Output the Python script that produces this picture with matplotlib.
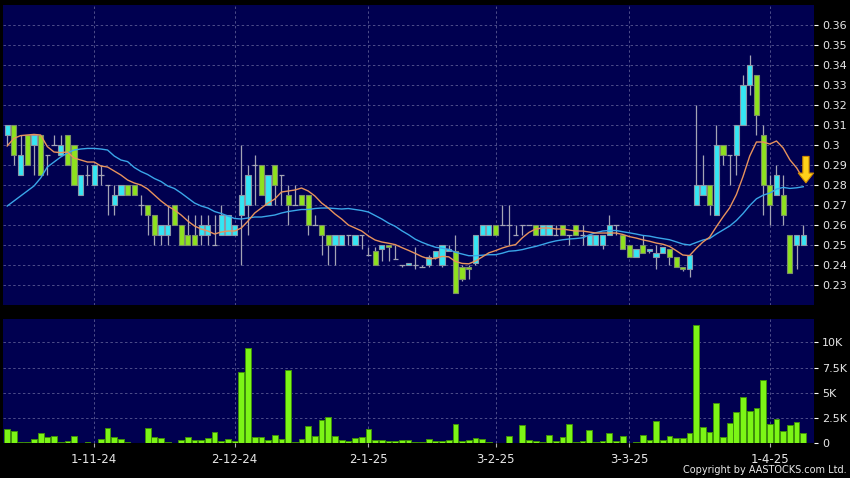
import numpy as np
import pandas as pd
import matplotlib.pyplot as plt
from matplotlib.ticker import FuncFormatter

# daily candles, one per trading day (index 0 .. 119)
opens = [0.305, 0.31, 0.285, 0.305, 0.30, 0.305, 0.295, 0.30, 0.295, 0.305,
         0.30, 0.275, 0.285, 0.28, 0.285, 0.28, 0.27, 0.275, 0.28, 0.28,
         0.27, 0.27, 0.265, 0.255, 0.255, 0.27, 0.26, 0.255, 0.255, 0.255,
         0.255, 0.25, 0.255, 0.255, 0.255, 0.265, 0.27, 0.29, 0.29, 0.27,
         0.29, 0.285, 0.275, 0.27, 0.275, 0.275, 0.26, 0.26, 0.255, 0.25,
         0.25, 0.255, 0.25, 0.255, 0.245, 0.247, 0.248, 0.25, 0.243, 0.24,
         0.24, 0.24, 0.239, 0.24, 0.244, 0.24, 0.247, 0.247, 0.239, 0.239,
         0.241, 0.255, 0.255, 0.26, 0.26, 0.26, 0.255, 0.26, 0.26, 0.26,
         0.255, 0.255, 0.255, 0.26, 0.255, 0.26, 0.255, 0.25, 0.25, 0.25,
         0.255, 0.26, 0.255, 0.25, 0.244, 0.25, 0.247, 0.244, 0.246, 0.248,
         0.244, 0.239, 0.238, 0.27, 0.275, 0.28, 0.265, 0.30, 0.295, 0.295,
         0.31, 0.33, 0.335, 0.305, 0.28, 0.275, 0.275, 0.255, 0.25, 0.25]
highs = [0.31, 0.31, 0.305, 0.305, 0.305, 0.305, 0.295, 0.305, 0.305, 0.305,
         0.30, 0.285, 0.29, 0.29, 0.29, 0.28, 0.28, 0.28, 0.28, 0.28,
         0.275, 0.27, 0.265, 0.26, 0.27, 0.27, 0.26, 0.265, 0.265, 0.265,
         0.265, 0.265, 0.27, 0.265, 0.26, 0.30, 0.29, 0.295, 0.29, 0.285,
         0.29, 0.285, 0.28, 0.28, 0.275, 0.275, 0.265, 0.26, 0.255, 0.255,
         0.255, 0.255, 0.255, 0.255, 0.249, 0.249, 0.25, 0.25, 0.25, 0.24,
         0.241, 0.249, 0.24, 0.245, 0.247, 0.25, 0.25, 0.255, 0.24, 0.24,
         0.255, 0.26, 0.26, 0.26, 0.27, 0.27, 0.26, 0.26, 0.26, 0.26,
         0.26, 0.26, 0.26, 0.26, 0.255, 0.26, 0.26, 0.255, 0.255, 0.255,
         0.265, 0.26, 0.255, 0.25, 0.248, 0.255, 0.248, 0.25, 0.249, 0.248,
         0.244, 0.239, 0.245, 0.32, 0.295, 0.28, 0.31, 0.30, 0.295, 0.31,
         0.335, 0.345, 0.335, 0.31, 0.285, 0.29, 0.285, 0.255, 0.255, 0.26]
lows = [0.30, 0.29, 0.285, 0.29, 0.285, 0.285, 0.285, 0.30, 0.295, 0.29,
        0.28, 0.275, 0.28, 0.28, 0.28, 0.265, 0.265, 0.275, 0.275, 0.275,
        0.265, 0.255, 0.25, 0.25, 0.25, 0.26, 0.25, 0.25, 0.25, 0.25,
        0.25, 0.25, 0.255, 0.255, 0.255, 0.24, 0.255, 0.27, 0.275, 0.27,
        0.27, 0.27, 0.26, 0.27, 0.27, 0.255, 0.26, 0.245, 0.24, 0.24,
        0.25, 0.25, 0.25, 0.248, 0.245, 0.24, 0.242, 0.242, 0.243, 0.239,
        0.24, 0.238, 0.239, 0.239, 0.243, 0.239, 0.247, 0.226, 0.232, 0.233,
        0.24, 0.255, 0.255, 0.255, 0.26, 0.25, 0.255, 0.255, 0.26, 0.255,
        0.255, 0.255, 0.255, 0.255, 0.25, 0.255, 0.25, 0.25, 0.25, 0.248,
        0.255, 0.255, 0.248, 0.244, 0.244, 0.246, 0.246, 0.238, 0.246, 0.24,
        0.239, 0.237, 0.234, 0.27, 0.275, 0.265, 0.265, 0.29, 0.28, 0.285,
        0.31, 0.325, 0.305, 0.265, 0.26, 0.275, 0.26, 0.236, 0.238, 0.25]
closes = [0.31, 0.295, 0.295, 0.29, 0.305, 0.285, 0.295, 0.30, 0.30, 0.29,
          0.28, 0.285, 0.285, 0.29, 0.285, 0.28, 0.275, 0.28, 0.275, 0.275,
          0.27, 0.265, 0.255, 0.26, 0.26, 0.26, 0.25, 0.25, 0.25, 0.26,
          0.26, 0.25, 0.265, 0.265, 0.26, 0.275, 0.285, 0.29, 0.275, 0.285,
          0.28, 0.285, 0.27, 0.27, 0.27, 0.26, 0.26, 0.255, 0.25, 0.255,
          0.255, 0.255, 0.255, 0.255, 0.245, 0.24, 0.25, 0.249, 0.243, 0.24,
          0.241, 0.24, 0.239, 0.244, 0.247, 0.25, 0.248, 0.226, 0.233, 0.238,
          0.255, 0.26, 0.26, 0.255, 0.26, 0.26, 0.255, 0.26, 0.26, 0.255,
          0.26, 0.26, 0.255, 0.255, 0.255, 0.255, 0.255, 0.255, 0.255, 0.255,
          0.26, 0.26, 0.248, 0.244, 0.248, 0.246, 0.248, 0.246, 0.249, 0.244,
          0.239, 0.238, 0.245, 0.28, 0.28, 0.27, 0.30, 0.295, 0.295, 0.31,
          0.33, 0.34, 0.315, 0.28, 0.27, 0.285, 0.265, 0.236, 0.255, 0.255]
volumes = [1410, 1200, 160, 100, 430, 1080, 660, 750, 100, 260,
           750, 70, 130, 70, 490, 1500, 660, 430, 160, 20,
           50, 1500, 660, 560, 100, 20, 330, 620, 330, 330,
           520, 1100, 230, 430, 230, 7100, 9400, 620, 620, 390,
           790, 490, 7300, 160, 430, 1770, 720, 2330, 2660, 720,
           390, 200, 560, 620, 1410, 330, 390, 260, 230, 330,
           300, 160, 150, 450, 200, 260, 390, 1900, 200, 330,
           520, 430, 100, 70, 50, 720, 50, 1840, 390, 260,
           100, 790, 230, 620, 1930, 100, 230, 1380, 100, 260,
           1020, 260, 720, 30, 100, 850, 330, 2260, 330, 720,
           520, 560, 1050, 11700, 1600, 1180, 4030, 690, 2000, 3080,
           4560, 3210, 3500, 6260, 1900, 2430, 1280, 1800, 2100, 1080]

# moving averages before enough history is in the window
ma10_head = [0.2995, 0.3033, 0.3047, 0.305, 0.3053, 0.305, 0.2992, 0.2965, 0.2962]
ma20_head = [0.2695, 0.272, 0.2745, 0.277, 0.2795, 0.2835, 0.289, 0.2915, 0.294,
             0.296, 0.2975, 0.298, 0.2983, 0.2983, 0.298, 0.2975, 0.2945, 0.2925, 0.2917]

date_labels = ['1-11-24', '2-12-24', '2-1-25', '3-2-25', '3-3-25', '1-4-25']
date_pos = [13, 34, 54, 73, 93, 114]

price_ticks = np.round(np.arange(0.23, 0.365, 0.01), 2)
vol_ticks = [0, 2500, 5000, 7500, 10000]

x = np.arange(len(closes))
o, h, l, c = (np.array(a) for a in (opens, highs, lows, closes))
s = pd.Series(closes)
ma10 = s.rolling(10).mean()
ma10.iloc[:9] = ma10_head
ma20 = s.rolling(20).mean()
ma20.iloc[:19] = ma20_head

bg = '#000050'
grid_col = '#4e4e8a'
txt = '#e8e8e8'

fig = plt.figure(figsize=(8.5, 4.78), dpi=100, facecolor='black')
ax = fig.add_axes([0.0039, 0.3619, 0.9537, 0.6276], facecolor=bg)
axv = fig.add_axes([0.0039, 0.0722, 0.9537, 0.2604], facecolor=bg, sharex=ax)

# candles
up = c > o
dn = c < o
fl = c == o
ax.vlines(x, l, h, color='#a4a4b4', lw=0.9, zorder=2)
ax.bar(x[up], (c - o)[up], bottom=o[up], width=0.78, color='#35e6f4',
       edgecolor='#8c98a8', lw=0.8, zorder=3)
ax.bar(x[dn], (o - c)[dn], bottom=c[dn], width=0.78, color='#8ee21e',
       edgecolor='#7c8e6a', lw=0.8, zorder=3)
ax.hlines(c[fl], x[fl] - 0.4, x[fl] + 0.4, color='#a4a4b4', lw=0.9, zorder=3)

ax.plot(x, ma20, color='#3aa6e8', lw=1.0, zorder=4)
ax.plot(x, ma10, color='#e8935c', lw=1.0, zorder=4)

ax.annotate('', xy=(x[-1] + 0.4, ma10.iloc[-1] - 0.002), xytext=(0, 19),
            textcoords='offset points',
            arrowprops=dict(facecolor='#ffd21a', edgecolor='#d08a00', lw=0.8,
                            width=4.5, headwidth=11, headlength=7, shrink=0),
            zorder=5)

ax.set_xlim(-0.58, 120.6)
ax.set_ylim(0.22, 0.37)
ax.set_yticks(price_ticks)
ax.yaxis.tick_right()
ax.yaxis.set_major_formatter(FuncFormatter(lambda v, _: f'{v:.2f}'.rstrip('0')))
ax.set_xticks(date_pos)
ax.tick_params(axis='x', length=0, labelbottom=False)
ax.tick_params(axis='y', length=3, color='white', labelcolor=txt, labelsize=8, pad=3)

# volume
axv.bar(x, volumes, width=0.86, color='#7cf516', edgecolor='#3f8f0a', lw=0.7, zorder=3)
axv.set_ylim(0, 12300)
axv.set_yticks(vol_ticks)
axv.yaxis.tick_right()
axv.yaxis.set_major_formatter(FuncFormatter(lambda v, _: '0' if v == 0 else f'{v / 1000:g}K'))
axv.set_xticks(date_pos, date_labels)
axv.tick_params(axis='x', length=3, color='#b0b0b0', labelcolor=txt, labelsize=8.5, pad=4)
axv.tick_params(axis='y', length=3, color='white', labelcolor=txt, labelsize=8, pad=3)

for a in (ax, axv):
    a.set_axisbelow(True)
    a.grid(True, color=grid_col, ls=(0, (2.5, 2.5)), lw=0.7)
    for sp in a.spines.values():
        sp.set_visible(False)

fig.text(0.996, 0.006, 'Copyright by AASTOCKS.com Ltd.', color=txt, fontsize=7,
         ha='right', va='bottom')

fig.savefig('out.png', dpi=100, facecolor='black')
